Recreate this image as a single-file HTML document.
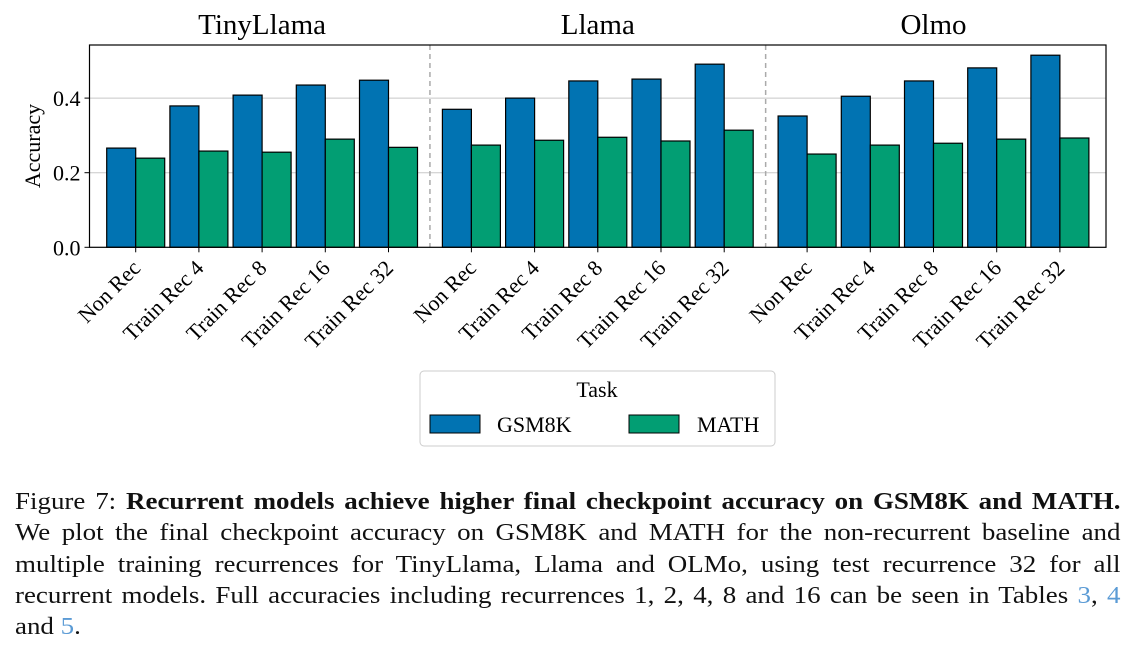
<!DOCTYPE html>
<html><head><meta charset="utf-8"><style>
body{margin:0;background:#fff;width:1134px;height:650px;overflow:hidden;position:relative;font-family:"Liberation Serif",serif}
#cap{position:absolute;left:15px;top:486px;width:1005px;font-size:24.5px;line-height:31.3px;text-align:justify;color:#111;transform:scaleX(1.10);transform-origin:0 0}
#cap a{color:#5b9bd5;text-decoration:none}
</style></head><body>
<svg id="chart" width="1134" height="470" style="position:absolute;left:0;top:0" font-family="Liberation Serif, serif"></svg>
<div id="cap">Figure 7: <b>Recurrent models achieve higher final checkpoint accuracy on GSM8K and MATH.</b> We plot the final checkpoint accuracy on GSM8K and MATH for the non-recurrent baseline and multiple training recurrences for TinyLlama, Llama and OLMo, using test recurrence 32 for all recurrent models. Full accuracies including recurrences 1, 2, 4, 8 and 16 can be seen in Tables <a>3</a>, <a>4</a> and&nbsp;<a>5</a>.</div>
<script>
const groups=["TinyLlama","Llama","Olmo"];
const categories=["Non Rec","Train Rec 4","Train Rec 8","Train Rec 16","Train Rec 32"];
const gsm8k=[[0.266,0.379,0.408,0.435,0.448],[0.370,0.400,0.446,0.451,0.491],[0.352,0.405,0.446,0.481,0.515]];
const math=[[0.239,0.258,0.255,0.290,0.268],[0.274,0.287,0.295,0.285,0.314],[0.250,0.274,0.279,0.290,0.293]];
const yTicks=[0.0,0.2,0.4];
const NS="http://www.w3.org/2000/svg",svg=document.getElementById('chart');
function mk(t,a,txt){const e=document.createElementNS(NS,t);for(const k in a)e.setAttribute(k,a[k]);if(txt!=null)e.textContent=txt;svg.appendChild(e);return e;}
const L=89.5,R=1106,T=45,B=247.3;
const y=v=>B-v*373;
const step=63.2,gStep=335.7,x0=135.7;
const xc=(g,i)=>x0+g*gStep+i*step;
const bw=29;
yTicks.forEach(v=>{
 if(v>0){const l=mk('line',{x1:L,x2:R,y1:y(v),y2:y(v),stroke:'#c8c8c8','stroke-width':1});}
 const tk=mk('line',{x1:L-5,x2:L,y1:y(v),y2:y(v),stroke:'#000'});
 const t=mk('text',{x:L-9,y:y(v)+8,'text-anchor':'end','font-size':22},v.toFixed(1));
});
[1,2].forEach(g=>{const d=mk('line',{x1:(xc(g-1,4)+xc(g,0))/2,x2:(xc(g-1,4)+xc(g,0))/2,y1:T,y2:B,stroke:'#aaa','stroke-width':1.5,'stroke-dasharray':'5,4'});});
groups.forEach((gn,g)=>{
 const tt=mk('text',{x:xc(g,2),y:34,'text-anchor':'middle','font-size':29},gn);
 categories.forEach((c,i)=>{
  const cx=xc(g,i);
  const b1=mk('rect',{x:cx-bw,y:y(gsm8k[g][i]),width:bw,height:B-y(gsm8k[g][i]),fill:'#0173b2',stroke:'#000','stroke-width':1.2});
  const b2=mk('rect',{x:cx,y:y(math[g][i]),width:bw,height:B-y(math[g][i]),fill:'#029e73',stroke:'#000','stroke-width':1.2});
  const tk=mk('line',{x1:cx,x2:cx,y1:B,y2:B+5,stroke:'#000'});
  const lb=mk('text',{x:cx+6,y:B+22,'text-anchor':'end','font-size':22,transform:`rotate(-45 ${cx+6} ${B+22})`},c);
 });
});
const fr=mk('rect',{x:L,y:T,width:R-L,height:B-T,fill:'none',stroke:'#000','stroke-width':1.2});
const yl=mk('text',{x:40,y:146,'text-anchor':'middle','font-size':22,transform:'rotate(-90 40 146)'},'Accuracy');
const lg=mk('rect',{x:420,y:371,width:355,height:75,rx:4,fill:'#fff',stroke:'#ccc'});
const lt=mk('text',{x:597,y:397,'text-anchor':'middle','font-size':22},'Task');
const s1=mk('rect',{x:430,y:415,width:50,height:18,fill:'#0173b2',stroke:'#000'});
const t1=mk('text',{x:497,y:432,'font-size':22},'GSM8K');
const s2=mk('rect',{x:629,y:415,width:50,height:18,fill:'#029e73',stroke:'#000'});
const t2=mk('text',{x:697,y:432,'font-size':22},'MATH');
</script>
</body></html>
